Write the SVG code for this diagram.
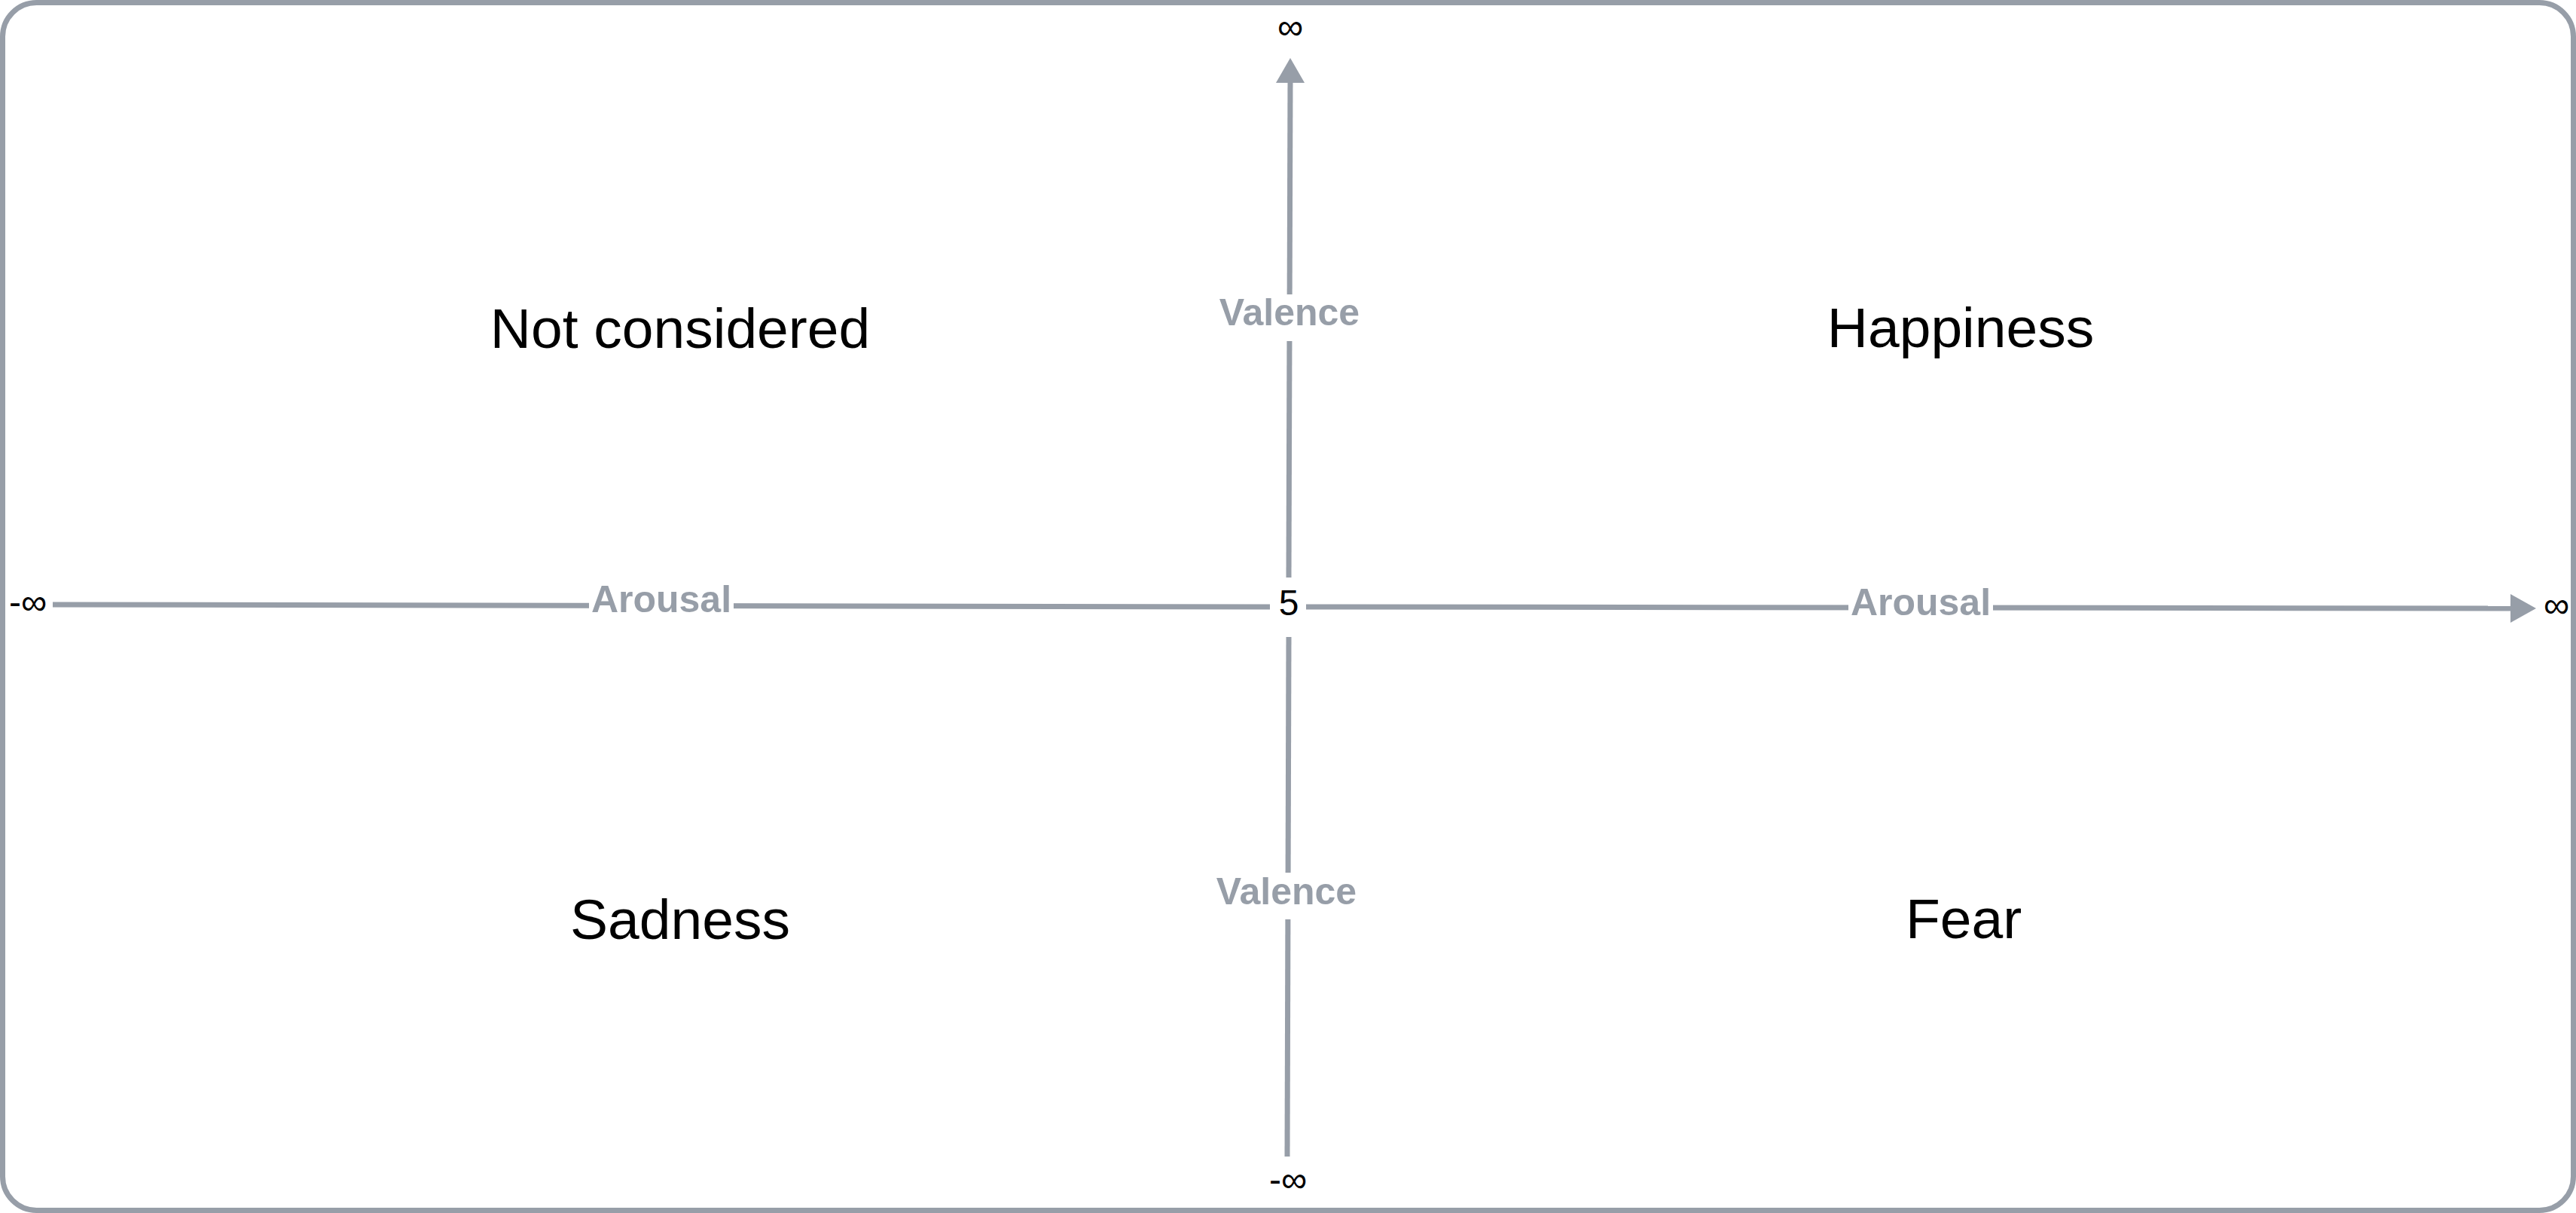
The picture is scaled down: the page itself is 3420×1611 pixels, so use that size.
<svg xmlns="http://www.w3.org/2000/svg" width="3420" height="1611" viewBox="0 0 3420 1611">
<style>
.frame{fill:#ffffff;stroke:#979ea8;stroke-width:7}
.conn{fill:none;stroke:#979ea8;stroke-width:7}
.head{fill:#979ea8;stroke:none}
.lbl{font-family:"Liberation Sans",Arial,sans-serif;font-weight:bold;font-size:50px;fill:#979ea8;text-anchor:middle}
.lblbg{fill:#ffffff}
.end{font-family:"Liberation Sans",Arial,sans-serif;font-size:48px;fill:#000000;text-anchor:middle}
.quad{font-family:"Liberation Sans",Arial,sans-serif;font-size:75px;fill:#000000;text-anchor:middle}
</style>
<rect class="frame" x="3.5" y="3.5" width="3413" height="1604" rx="45" ry="45"/>
<g id="connectors">
<g id="valence-up">
<line class="conn" x1="1711" y1="767" x2="1713" y2="106"/>
<polygon class="head" points="1713,77 1732,110 1694,110"/>
<rect class="lblbg" x="1614" y="391" width="196" height="62"/>
<text class="lbl" x="1712" y="432">Valence</text>
</g>
<g id="valence-down">
<line class="conn" x1="1711" y1="846" x2="1709" y2="1536"/>
<rect class="lblbg" x="1610" y="1159" width="196" height="62"/>
<text class="lbl" x="1708" y="1201">Valence</text>
</g>
<g id="arousal-left">
<line class="conn" x1="1686" y1="806" x2="70" y2="803"/>
<rect class="lblbg" x="782" y="773" width="192" height="62"/>
<text class="lbl" x="878" y="813">Arousal</text>
</g>
<g id="arousal-right">
<line class="conn" x1="1734" y1="806" x2="3336" y2="808"/>
<polygon class="head" points="3367,808 3333,789 3333,827"/>
<rect class="lblbg" x="2454" y="776" width="192" height="62"/>
<text class="lbl" x="2550" y="817">Arousal</text>
</g>
</g>
<g id="center"><text class="end" x="1711" y="817">5</text></g>
<g id="pos-valence"><text class="end" x="1713" y="52">∞</text></g>
<g id="neg-valence"><text class="end" x="1710" y="1583">-∞</text></g>
<g id="neg-arousal"><text class="end" x="37" y="816">-∞</text></g>
<g id="pos-arousal"><text class="end" x="3394" y="820">∞</text></g>
<g id="not-considered"><text class="quad" x="903" y="462">Not considered</text></g>
<g id="happiness"><text class="quad" x="2603" y="461">Happiness</text></g>
<g id="sadness"><text class="quad" x="903" y="1247">Sadness</text></g>
<g id="fear"><text class="quad" x="2607" y="1246">Fear</text></g>
</svg>
